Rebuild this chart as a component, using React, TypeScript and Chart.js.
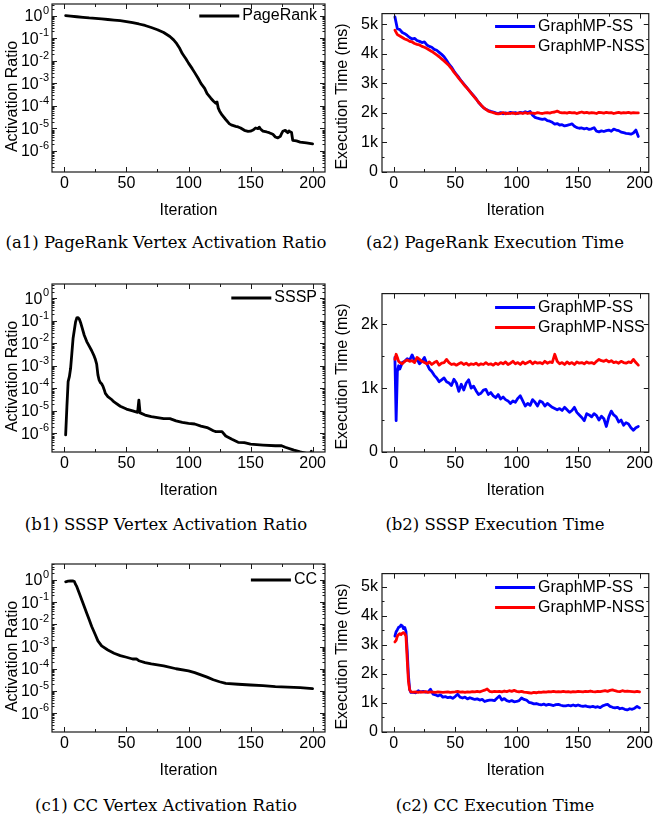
import React, { useEffect, useRef } from 'react';
import { Chart, registerables } from 'chart.js';
Chart.register(...registerables);

// ---------------- data ----------------
const X_TICKS = [0, 50, 100, 150, 200];
const X_MINOR = [25, 75, 125, 175];
const LOG_TICKS = [1, 1e-1, 1e-2, 1e-3, 1e-4, 1e-5, 1e-6];
const TIME_TICKS_5K = [0, 1000, 2000, 3000, 4000, 5000];
const TIME_MINOR_5K = [500, 1500, 2500, 3500, 4500];
const TIME_TICKS_2K = [0, 1000, 2000];
const TIME_MINOR_2K = [500, 1500];

// (a1) PageRank activation ratio
const PR_ITER = [1,5,10,15,20,25,30,35,40,45,50,55,60,65,70,75,80,85,88,90,93,95,98,100,103,105,108,110,113,115,118,120,122,123,124,125,127,130,133,135,138,140,142,145,148,150,152,154,156,157,158,160,163,165,168,170,172,174,175,176,178,179,180,181,182,183,184,187,190,195,200];
const PR_RATIO = [1.0,0.95,0.9,0.85,0.8,0.77,0.72,0.68,0.64,0.6,0.55,0.49,0.43,0.37,0.3,0.24,0.18,0.12,0.085,0.063,0.035,0.021,0.012,0.0079,0.0045,0.003,0.0016,0.001,6e-4,3.5e-4,2.2e-4,1.66e-4,1.3e-4,1.5e-4,8e-5,6e-5,4e-5,2.5e-5,1.6e-5,1.4e-5,1.25e-5,1.17e-5,1.05e-5,8.3e-6,7.5e-6,7.6e-6,8.5e-6,1.05e-5,9.8e-6,1.15e-5,9.5e-6,7.6e-6,7e-6,6.5e-6,5.5e-6,4.2e-6,3.8e-6,4.5e-6,5.9e-6,7.5e-6,8.3e-6,7.2e-6,6.5e-6,7.8e-6,7e-6,6.8e-6,3e-6,2.8e-6,2.5e-6,2.3e-6,2.1e-6];

// (a2) PageRank execution time (ms)
const PR_TIME_ITER = [1,3,5,7,9,11,13,15,17,19,21,23,25,27,29,31,33,35,37,39,41,43,45,47,49,51,53,55,57,59,61,63,65,67,69,71,73,75,77,79,81,83,85,87,89,91,93,95,97,99,101,103,105,107,109,111,113,115,117,119,121,123,125,127,129,131,133,135,137,139,141,143,145,147,149,151,153,155,157,159,161,163,165,167,169,171,173,175,177,179,181,183,185,187,189,191,193,195,197,199];
const PR_SS = [5250,4850,4820,4720,4680,4620,4550,4500,4520,4450,
  4420,4380,4400,4300,4250,4220,4150,4120,4050,3980,
  3900,3780,3650,3550,3420,3300,3200,3080,2980,2880,
  2780,2680,2580,2480,2360,2260,2180,2120,2080,2050,
  2030,2000,1980,2010,1970,2000,1980,2020,1990,2010,
  1980,2020,2000,2040,2010,2050,1920,1850,1820,1800,
  1780,1800,1740,1720,1680,1620,1640,1590,1600,1560,
  1580,1600,1630,1550,1500,1480,1490,1460,1480,1440,
  1460,1500,1380,1360,1390,1370,1400,1420,1380,1450,
  1420,1400,1350,1330,1310,1300,1280,1320,1420,1200];
const PR_NSS = [4800,4650,4600,4550,4500,4470,4420,4400,4350,4320,
  4300,4250,4220,4180,4130,4080,4020,3960,3900,3830,
  3760,3680,3600,3500,3380,3280,3170,3070,2960,2870,
  2770,2670,2570,2470,2360,2270,2180,2120,2060,2030,
  2010,1980,1970,1980,2010,1970,1990,1980,2000,1970,
  1990,2000,1980,2010,1980,2000,1990,1980,2010,1990,
  1980,2000,2010,1990,2020,2030,2060,2020,2000,2010,
  1990,2020,2000,2010,1980,2010,2030,2000,2020,1990,
  2010,2000,1980,2020,2010,1990,2020,2000,2010,1980,
  2000,2020,1990,2010,2000,2020,1990,2010,2000,2000];

// (b1) SSSP activation ratio
const SSSP_ITER = [1,2,3,4,5,6,7,8,9,10,11,12,13,14,16,18,20,22,24,25,26,27,28,29,30,31,32,33,35,38,40,45,50,55,59,60,61,62,65,70,75,80,85,90,95,100,105,110,115,120,122,127,130,135,140,145,150,160,170,175,178,185,190,195,198,199];
const SSSP_RATIO = [8.5e-7,1.5e-5,2.0e-4,3.3e-4,7.8e-4,3.6e-3,0.017,0.039,0.09,0.135,0.14,0.12,0.085,0.055,0.023,0.012,7.5e-3,4.7e-3,2.7e-3,1.9e-3,1.2e-3,4e-4,2.3e-4,1.8e-4,1.6e-4,1.26e-4,9e-5,6e-5,4.3e-5,3.2e-5,2.5e-5,1.6e-5,1.2e-5,1e-5,8.5e-6,3e-5,8e-6,7.7e-6,6.5e-6,5.5e-6,5e-6,4.5e-6,4.5e-6,3.6e-6,3.1e-6,2.8e-6,2.6e-6,2.1e-6,1.8e-6,1.3e-6,1.2e-6,1.2e-6,7.6e-7,5.4e-7,4e-7,3.9e-7,3.3e-7,3e-7,2.8e-7,2.8e-7,2.4e-7,1.8e-7,1.5e-7,1.3e-7,1.2e-7,1.6e-7];

// (b2) SSSP execution time (ms)
const SSSP_TIME_ITER = [1,2,3,4,5,7,9,11,13,15,17,19,21,23,25,27,29,31,33,35,37,39,41,43,45,47,49,51,53,55,57,59,61,63,65,67,69,71,73,75,77,79,81,83,85,87,89,91,93,95,97,99,101,103,105,107,109,111,113,115,117,119,121,123,125,127,129,131,133,135,137,139,141,143,145,147,149,151,153,155,157,159,161,163,165,167,169,171,173,175,177,179,181,183,185,187,189,191,193,195,197,199];
const SSSP_SS = [1480,490,1260,1350,1300,
  1400,1420,1460,1440,1520,1430,1450,1380,1420,1480,
  1380,1300,1260,1200,1160,1100,1130,1160,1100,1080,
  1040,1140,1080,950,1060,970,1080,1130,1000,1030,
  960,900,920,970,980,900,930,880,850,900,
  830,860,820,800,760,800,780,840,880,800,
  720,760,730,820,780,720,800,780,720,760,
  730,700,680,660,680,650,700,660,620,650,
  700,620,580,540,490,600,580,550,600,570,
  500,560,520,400,550,640,580,550,470,500,
  420,460,440,380,340,380,400];
const SSSP_NSS = [1450,1530,1480,1420,1400,
  1380,1420,1440,1420,1430,1400,1480,1450,1420,1400,
  1380,1410,1370,1400,1420,1360,1390,1400,1450,1400,
  1370,1380,1360,1380,1400,1370,1390,1360,1380,1370,
  1390,1360,1380,1370,1400,1370,1380,1360,1390,1370,
  1400,1380,1410,1370,1390,1420,1380,1400,1370,1410,
  1380,1400,1420,1380,1410,1390,1400,1380,1420,1390,
  1410,1400,1530,1420,1380,1400,1370,1410,1380,1400,
  1370,1410,1390,1400,1380,1410,1390,1400,1380,1420,
  1450,1430,1420,1440,1410,1430,1400,1410,1390,1420,
  1400,1390,1410,1400,1450,1400,1360];

// (c1) CC activation ratio
const CC_ITER = [1,3,5,7,8,9,10,12,15,18,20,22,25,27,30,35,40,45,50,55,58,60,65,70,80,90,100,105,110,115,120,125,130,140,150,160,170,180,190,200];
const CC_RATIO = [0.83,0.88,0.9,0.9,0.85,0.63,0.5,0.25,0.09,0.032,0.016,8e-3,3.3e-3,1.8e-3,1.07e-3,7e-4,5e-4,3.9e-4,3.3e-4,2.75e-4,2.8e-4,2.3e-4,1.9e-4,1.65e-4,1.35e-4,1e-4,8e-5,6.7e-5,5.3e-5,4.2e-5,3.2e-5,2.6e-5,2.2e-5,2e-5,1.85e-5,1.75e-5,1.58e-5,1.5e-5,1.4e-5,1.27e-5];

// (c2) CC execution time (ms)
const CC_TIME_ITER = [1,2,3,4,5,6,7,8,9,10,11,12,13,14,16,18,20,22,24,26,28,30,32,34,36,38,40,42,44,46,48,50,52,54,56,58,60,62,64,66,68,70,72,74,76,78,80,82,84,86,88,90,92,94,96,98,100,102,104,106,108,110,112,114,116,118,120,122,124,126,128,130,132,134,136,138,140,142,144,146,148,150,152,154,156,158,160,162,164,166,168,170,172,174,176,178,180,182,184,186,188,190,192,194,196,198,200];
const CC_SS = [3300,3450,3520,3600,3620,3680,3650,3560,3600,3460,2800,1950,1460,1360,
  1360,1350,1420,1380,1400,1370,1380,1470,1300,1280,
  1240,1280,1200,1220,1180,1200,1160,1220,1300,1200,
  1170,1200,1140,1180,1150,1120,1140,1100,1120,1050,
  1080,1100,1100,1080,1160,1240,1100,1150,1080,1050,
  1080,1040,1050,1080,1170,1120,1100,1020,1000,970,
  980,950,930,960,920,950,930,910,940,950,
  920,900,900,920,900,930,900,930,900,880,
  900,870,860,880,850,870,840,900,930,950,
  880,850,830,850,800,820,780,760,800,780,
  820,880,830];
const CC_NSS = [3100,3150,3300,3350,3380,3350,3400,3420,3380,3300,2500,1750,1450,1380,
  1370,1380,1360,1380,1370,1390,1360,1380,1370,1360,
  1380,1370,1360,1370,1380,1360,1370,1380,1400,1370,
  1380,1360,1380,1370,1390,1380,1400,1380,1410,1440,
  1480,1400,1380,1400,1390,1400,1380,1410,1390,1420,
  1400,1430,1400,1380,1400,1370,1360,1350,1340,1360,
  1350,1370,1360,1380,1370,1390,1380,1400,1380,1390,
  1380,1400,1380,1390,1370,1390,1380,1400,1390,1380,
  1400,1390,1410,1390,1380,1400,1390,1410,1420,1400,
  1430,1450,1420,1400,1390,1420,1400,1410,1400,1390,
  1380,1400,1380];

// ---------------- helpers ----------------
const FONT = "'Liberation Sans', Arial, Helvetica, sans-serif";
const BLUE = '#0000ff';
const RED = '#ff0000';

const framePlugin = {
  id: 'frame',
  afterDatasetsDraw(chart: any, _args: any, opts: any) {
    const { ctx, chartArea: a, scales } = chart;
    const xs = scales.x, ys = scales.y;
    ctx.save();
    ctx.strokeStyle = '#1a1a1a';
    ctx.lineWidth = 1.2;
    ctx.strokeRect(a.left, a.top, a.right - a.left, a.bottom - a.top);
    ctx.lineWidth = 1;
    const seg = (x0: number, y0: number, x1: number, y1: number) => {
      ctx.beginPath(); ctx.moveTo(x0, y0); ctx.lineTo(x1, y1); ctx.stroke();
    };
    const xt = (vals: number[], len: number) => vals.forEach((v) => {
      const p = Math.round(xs.getPixelForValue(v)) + 0.5;
      seg(p, a.bottom, p, a.bottom - len); seg(p, a.top, p, a.top + len);
    });
    const yt = (vals: number[], len: number) => vals.forEach((v) => {
      if (v < ys.min || v > ys.max) return;
      const p = Math.round(ys.getPixelForValue(v)) + 0.5;
      seg(a.left, p, a.left + len, p); seg(a.right, p, a.right - len, p);
    });
    xt(opts.xMajor, 5); xt(opts.xMinor, 3);
    yt(opts.yMajor, 5); yt(opts.yMinor, 2.5);
    ctx.restore();
  },
};

// power-of-ten tick labels ("10" with a raised exponent) placed through the y scale
const logLabelPlugin = {
  id: 'loglabels',
  afterDraw(chart: any, _args: any, opts: any) {
    if (!opts.enabled) return;
    const { ctx, chartArea: a, scales } = chart;
    const ys = scales.y;
    ctx.save();
    ctx.fillStyle = '#000';
    ctx.textAlign = 'right';
    ctx.textBaseline = 'middle';
    opts.values.forEach((v: number) => {
      const p = ys.getPixelForValue(v);
      const e = String(Math.round(Math.log10(v)));
      const right = a.left - 3;
      ctx.font = `11px ${FONT}`;
      const ew = ctx.measureText(e).width;
      ctx.fillText(e, right, p - 5);
      ctx.font = `16px ${FONT}`;
      ctx.fillText('10', right - ew - 0.5, p + 1);
    });
    ctx.restore();
  },
};

const yTitlePlugin = {
  id: 'ytitle',
  afterDraw(chart: any, _args: any, opts: any) {
    const { ctx } = chart;
    ctx.save();
    ctx.translate(opts.x, opts.y);
    ctx.rotate(-Math.PI / 2);
    ctx.font = `16px ${FONT}`;
    ctx.fillStyle = '#000';
    ctx.textAlign = 'center';
    ctx.textBaseline = 'middle';
    ctx.fillText(opts.text, 0, 0);
    ctx.restore();
  },
};

const legendPlugin = {
  id: 'inlegend',
  afterDraw(chart: any, _args: any, opts: any) {
    const { ctx, chartArea: a } = chart;
    const ds = chart.data.datasets;
    ctx.save();
    ctx.font = `16px ${FONT}`;
    const maxW = Math.max(...ds.map((d: any) => ctx.measureText(d.label).width));
    const tx = a.right - opts.right - maxW;
    const lx1 = tx - 3, lx0 = lx1 - 40;
    ds.forEach((d: any, i: number) => {
      const yy = a.top + opts.top + i * 20;
      ctx.strokeStyle = d.borderColor; ctx.lineWidth = 3;
      ctx.beginPath(); ctx.moveTo(lx0, yy); ctx.lineTo(lx1, yy); ctx.stroke();
      ctx.fillStyle = '#000'; ctx.textAlign = 'left'; ctx.textBaseline = 'middle';
      ctx.fillText(d.label, tx, yy);
    });
    ctx.restore();
  },
};

type DS = { label: string; color: string; xs: number[]; ys: number[]; order: number };
type Spec = {
  left: number; top: number; width: number; padRight: number;
  xMin: number; xMax: number; log: boolean; yMin: number; yMax: number;
  yTicks: number[]; yMinor: number[]; yLabel: string; legendTop: number; legendRight: number;
  datasets: DS[];
};

const W_H = 220;

function logMinor(min: number, max: number) {
  const out: number[] = [];
  for (let d = -8; d <= 1; d++) for (let m = 2; m <= 9; m++) {
    const v = m * Math.pow(10, d);
    if (v > min && v < max) out.push(v);
  }
  return out;
}

function buildConfig(p: Spec): any {
  const tickFont = { family: FONT, size: 16 };
  return {
    type: 'line',
    data: {
      datasets: p.datasets.map((d) => ({
        label: d.label,
        data: d.xs.map((x, i) => ({ x, y: d.ys[i] })),
        borderColor: d.color,
        backgroundColor: d.color,
        borderWidth: 2.8,
        pointRadius: 0,
        tension: 0,
        fill: false,
        order: d.order,
        borderJoinStyle: 'round',
        borderCapStyle: 'round',
      })),
    },
    options: {
      animation: false,
      responsive: false,
      events: [],
      layout: { padding: { left: 0, top: 4, right: p.padRight, bottom: 0 } },
      plugins: {
        legend: { display: false },
        tooltip: { enabled: false },
        frame: { xMajor: X_TICKS, xMinor: X_MINOR, yMajor: p.yTicks, yMinor: p.yMinor },
        loglabels: { enabled: p.log, values: p.yTicks },
        ytitle: { text: p.yLabel, x: 13, y: 96.5 },
        inlegend: { top: p.legendTop, right: p.legendRight },
      },
      scales: {
        x: {
          type: 'linear', min: p.xMin, max: p.xMax,
          grid: { display: false, drawTicks: false }, border: { display: false },
          ticks: { font: tickFont, color: '#000', padding: 2, maxRotation: 0, autoSkip: false, callback: (v: number) => String(v) },
          afterBuildTicks: (s: any) => { s.ticks = X_TICKS.map((v) => ({ value: v })); },
          afterFit: (s: any) => { s.height = 48; },
          title: { display: true, text: 'Iteration', font: { family: FONT, size: 16 }, color: '#000', padding: 0 },
        },
        y: {
          type: p.log ? 'logarithmic' : 'linear', min: p.yMin, max: p.yMax,
          grid: { display: false, drawTicks: false }, border: { display: false },
          ticks: {
            display: !p.log,
            font: tickFont, color: '#000', padding: 4, autoSkip: false,
            callback: (v: number) => (v === 0 ? '0' : `${v / 1000}k`),
          },
          afterBuildTicks: (s: any) => { s.ticks = p.yTicks.map((v) => ({ value: v })); },
          afterFit: (s: any) => { s.width = 52; },
        },
      },
    },
    plugins: [framePlugin, logLabelPlugin, yTitlePlugin, legendPlugin],
  };
}

function Panel({ spec }: { spec: Spec }) {
  const ref = useRef<HTMLCanvasElement>(null);
  useEffect(() => {
    const chart = new Chart(ref.current as HTMLCanvasElement, buildConfig(spec));
    return () => chart.destroy();
  }, []);
  return (
    <canvas ref={ref} width={spec.width} height={W_H}
      style={{ position: 'absolute', left: spec.left, top: spec.top, width: spec.width, height: W_H }} />
  );
}

const LOG_A = { min: Math.pow(10, -6.93), max: Math.pow(10, 0.52) };
const LOG_B = { min: Math.pow(10, -6.83), max: Math.pow(10, 0.64) };
const LOG_C = { min: Math.pow(10, -6.85), max: Math.pow(10, 0.72) };

const LEFT = { left: 0, width: 330, padRight: 5, xMin: -10, xMax: 210, legendRight: 8 };
const RIGHT = { left: 330, width: 325, padRight: 3, xMin: -9.5, xMax: 207.5, legendRight: 4 };

const SPECS: Spec[] = [
  { ...LEFT, top: 0, log: true, yMin: LOG_A.min, yMax: LOG_A.max, yTicks: LOG_TICKS, yMinor: logMinor(LOG_A.min, LOG_A.max), yLabel: 'Activation Ratio', legendTop: 12,
    datasets: [{ label: 'PageRank', color: '#000', xs: PR_ITER, ys: PR_RATIO, order: 0 }] },
  { ...RIGHT, top: 0, log: false, yMin: 0, yMax: 5360, yTicks: TIME_TICKS_5K, yMinor: TIME_MINOR_5K, yLabel: 'Execution Time (ms)', legendTop: 13,
    datasets: [
      { label: 'GraphMP-SS', color: BLUE, xs: PR_TIME_ITER, ys: PR_SS, order: 1 },
      { label: 'GraphMP-NSS', color: RED, xs: PR_TIME_ITER, ys: PR_NSS, order: 0 },
    ] },
  { ...LEFT, top: 280, log: true, yMin: LOG_B.min, yMax: LOG_B.max, yTicks: LOG_TICKS, yMinor: logMinor(LOG_B.min, LOG_B.max), yLabel: 'Activation Ratio', legendTop: 14,
    datasets: [{ label: 'SSSP', color: '#000', xs: SSSP_ITER, ys: SSSP_RATIO, order: 0 }] },
  { ...RIGHT, top: 280, log: false, yMin: 0, yMax: 2480, yTicks: TIME_TICKS_2K, yMinor: TIME_MINOR_2K, yLabel: 'Execution Time (ms)', legendTop: 14,
    datasets: [
      { label: 'GraphMP-SS', color: BLUE, xs: SSSP_TIME_ITER, ys: SSSP_SS, order: 1 },
      { label: 'GraphMP-NSS', color: RED, xs: SSSP_TIME_ITER, ys: SSSP_NSS, order: 0 },
    ] },
  { ...LEFT, top: 560, log: true, yMin: LOG_C.min, yMax: LOG_C.max, yTicks: LOG_TICKS, yMinor: logMinor(LOG_C.min, LOG_C.max), yLabel: 'Activation Ratio', legendTop: 16,
    datasets: [{ label: 'CC', color: '#000', xs: CC_ITER, ys: CC_RATIO, order: 0 }] },
  { ...RIGHT, top: 560, log: false, yMin: 0, yMax: 5450, yTicks: TIME_TICKS_5K, yMinor: TIME_MINOR_5K, yLabel: 'Execution Time (ms)', legendTop: 14,
    datasets: [
      { label: 'GraphMP-SS', color: BLUE, xs: CC_TIME_ITER, ys: CC_SS, order: 1 },
      { label: 'GraphMP-NSS', color: RED, xs: CC_TIME_ITER, ys: CC_NSS, order: 0 },
    ] },
];

const CAPTIONS = [
  { text: '(a1) PageRank Vertex Activation Ratio', cx: 166, cy: 243 },
  { text: '(a2) PageRank Execution Time', cx: 495, cy: 243 },
  { text: '(b1) SSSP Vertex Activation Ratio', cx: 166, cy: 525 },
  { text: '(b2) SSSP Execution Time', cx: 495, cy: 525 },
  { text: '(c1) CC Vertex Activation Ratio', cx: 166, cy: 806 },
  { text: '(c2) CC Execution Time', cx: 495, cy: 806 },
];

export default function App() {
  return (
    <div style={{ position: 'absolute', left: 0, top: 0, width: 655, height: 823, background: '#fff', overflow: 'hidden' }}>
      {SPECS.map((s, i) => <Panel key={i} spec={s} />)}
      {CAPTIONS.map((c, i) => (
        <div key={'c' + i} style={{
          position: 'absolute', left: c.cx - 170, top: c.cy - 11, width: 340, height: 22, lineHeight: '22px',
          textAlign: 'center', fontFamily: "'DejaVu Serif', 'Liberation Serif', serif", fontSize: 16.5, color: '#000', whiteSpace: 'nowrap',
        }}>{c.text}</div>
      ))}
    </div>
  );
}
